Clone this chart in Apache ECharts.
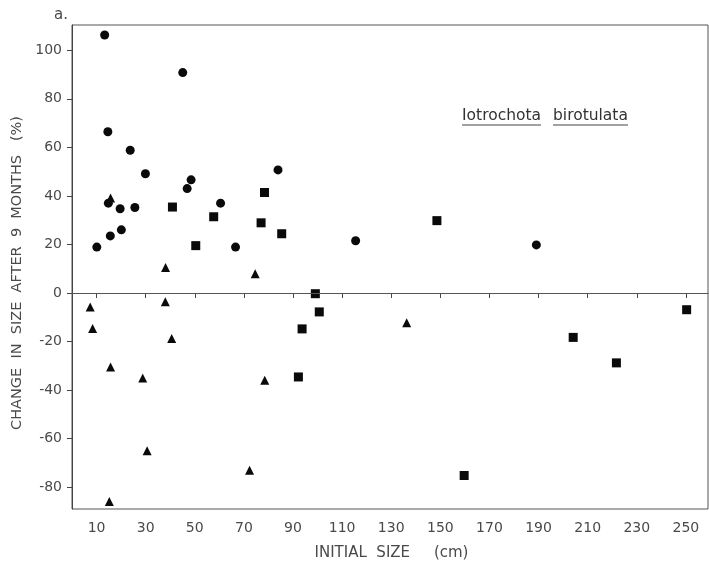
<!DOCTYPE html>
<html>
<head>
<meta charset="utf-8">
<script src="https://cdn.jsdelivr.net/npm/echarts@6/dist/echarts.min.js"></script>
<style>
  html, body { margin: 0; padding: 0; background: #fff; }
  #chart { width: 709px; height: 567px; }
</style>
</head>
<body>
<div id="chart"></div>
<script>
// Tick positions shown on each axis
const xTickValues = [10, 30, 50, 70, 90, 110, 130, 150, 170, 190, 210, 230, 250];
const yTickValues = [-80, -60, -40, -20, 0, 20, 40, 60, 80, 100];

// [initial size (cm), change in size after 9 months (%)]
const circles = [
  [13.3, 106.3], [45.1, 90.8], [14.6, 66.4], [23.7, 58.8], [29.9, 49.1],
  [83.9, 50.7], [48.5, 46.6], [46.9, 43.0], [14.8, 37.0], [60.5, 37.0],
  [19.6, 34.7], [25.6, 35.2], [20.1, 26.0], [15.6, 23.5], [10.1, 18.9],
  [66.6, 18.9], [115.5, 21.5], [189.1, 19.8]
];
const squares = [
  [40.9, 35.4], [57.7, 31.4], [50.4, 19.5], [78.4, 41.4], [77.0, 28.9],
  [85.4, 24.4], [148.6, 29.8], [99.1, -0.3], [100.7, -7.8], [93.7, -14.8],
  [92.2, -34.6], [250.3, -6.9], [204.1, -18.3], [221.7, -28.8], [159.7, -75.2]
];
const triangles = [
  [15.7, 39.1], [38.1, 10.5], [74.6, 7.9], [7.4, -5.8], [8.4, -14.6],
  [38.0, -3.6], [40.6, -18.8], [15.7, -30.5], [28.8, -35.0], [78.5, -36.0],
  [30.6, -65.0], [72.3, -73.0], [15.2, -85.9], [136.3, -12.3]
];

const FONT = 'DejaVu Sans';
const INK = '#4a4a4a';
const MARK = '#0a0a0a';

const chart = echarts.init(document.getElementById('chart'), null, { renderer: 'canvas' });

const markerSeries = (name, data, symbol, size) => ({
  name, type: 'scatter', data, symbol, symbolSize: size,
  itemStyle: { color: MARK, opacity: 1 },
  silent: true
});

chart.setOption({
  animation: false,
  backgroundColor: '#fff',
  textStyle: { fontFamily: FONT },
  grid: {
    left: 72, right: 1, top: 25, bottom: 58,
    show: true, borderColor: '#555', borderWidth: 1, backgroundColor: 'transparent'
  },
  xAxis: {
    type: 'value', min: 0, max: 259,
    name: 'INITIAL  SIZE     (cm)', nameLocation: 'middle', nameGap: 37,
    nameTextStyle: { fontFamily: FONT, fontSize: 15, color: INK, padding: [0, 0, 0, 3] },
    axisLine: { show: true, lineStyle: { color: '#444', width: 1 } },
    axisTick: { show: true, inside: false, length: 5, lineStyle: { color: '#444' }, customValues: xTickValues },
    axisLabel: { fontFamily: FONT, fontSize: 14, color: INK, margin: 12, customValues: xTickValues },
    splitLine: { show: false }
  },
  yAxis: {
    type: 'value', min: -89, max: 110.4,
    name: 'CHANGE  IN  SIZE  AFTER  9  MONTHS   (%)', nameLocation: 'middle', nameGap: 46,
    nameTextStyle: { fontFamily: FONT, fontSize: 14.5, color: INK, padding: [0, 12, 0, 0] },
    axisLine: { show: true, lineStyle: { color: '#444', width: 1 } },
    axisTick: { show: true, inside: false, length: 5, lineStyle: { color: '#444' }, customValues: yTickValues },
    axisLabel: { fontFamily: FONT, fontSize: 14, color: INK, margin: 10, customValues: yTickValues },
    splitLine: { show: false }
  },
  series: [
    Object.assign(markerSeries('circle', circles, 'circle', 9), {
      markLine: {
        silent: true, symbol: ['none', 'none'],
        label: { show: false },
        lineStyle: { color: '#555', width: 1, type: 'solid' },
        data: [{ yAxis: 0 }]
      }
    }),
    markerSeries('square', squares, 'rect', 9),
    markerSeries('triangle', triangles, 'triangle', 9)
  ],
  graphic: [
    { type: 'text', left: 54, top: 8, style: { text: 'a.', font: '15px "DejaVu Sans"', fill: INK } },
    { type: 'text', left: 462, top: 108, style: { text: 'Iotrochota', font: '15.5px "DejaVu Sans"', fill: '#333' } },
    { type: 'text', left: 553, top: 108, style: { text: 'birotulata', font: '15.5px "DejaVu Sans"', fill: '#333' } },
    { type: 'line', shape: { x1: 462, y1: 125, x2: 541, y2: 125 }, style: { stroke: '#444', lineWidth: 1 } },
    { type: 'line', shape: { x1: 553, y1: 125, x2: 628, y2: 125 }, style: { stroke: '#444', lineWidth: 1 } }
  ]
});
</script>
</body>
</html>
